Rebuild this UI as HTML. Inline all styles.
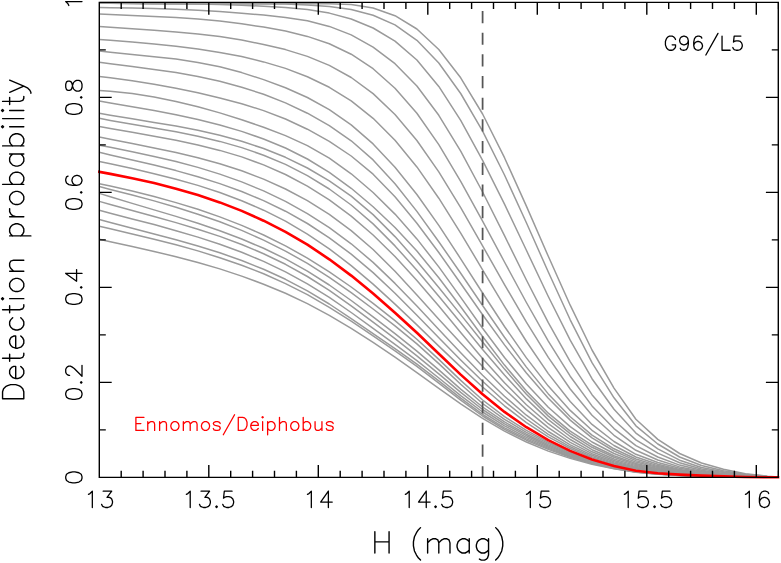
<!DOCTYPE html>
<html><head><meta charset="utf-8"><title>Detection probability</title>
<style>html,body{margin:0;padding:0;background:#fff;font-family:"Liberation Sans",sans-serif}svg{position:absolute;left:0;top:0}</style>
</head><body>
<svg width="781" height="563" viewBox="0 0 781 563" style="display:block">
<rect width="781" height="563" fill="#fff"/>
<clipPath id="c"><rect x="99.3" y="1.35" width="679.0" height="477.54999999999995"/></clipPath>
<clipPath id="cr"><rect x="98.0" y="1.35" width="681.6" height="477.54999999999995"/></clipPath>
<g clip-path="url(#c)" fill="none" stroke="#9a9a9a" stroke-width="1.5" stroke-linejoin="round">
<polyline points="99.3,2.6 110.3,2.6 132.2,2.6 154.1,2.6 176.0,2.6 197.9,2.8 219.8,3.0 241.7,3.3 263.6,3.5 285.5,3.6 307.4,3.7 329.3,3.8 351.2,4.6 373.1,8.0 395.0,15.7 416.9,29.0 438.8,49.5 460.7,77.8 482.6,114.0 504.5,157.7 526.4,206.1 548.3,256.3 570.2,305.2 592.0,350.0 614.0,388.1 635.9,419.3 657.8,439.4 679.6,453.5 701.5,463.0 723.5,469.3 745.4,473.7 767.3,476.2 778.2,476.9"/>
<polyline points="99.3,2.9 110.3,3.3 132.2,3.8 154.1,3.9 176.0,3.9 197.9,3.9 219.8,3.9 241.7,3.9 263.6,3.9 285.5,3.9 307.4,4.9 329.3,6.5 351.2,9.5 373.1,15.2 395.0,24.9 416.9,40.3 438.8,63.0 460.7,93.5 482.6,131.2 504.5,175.0 526.4,222.8 548.3,272.0 570.2,319.8 592.0,362.7 614.0,397.8 635.9,425.8 657.8,444.0 679.6,457.0 701.5,465.5 723.5,470.7 745.4,474.3 767.3,476.4 778.2,477.0"/>
<polyline points="99.3,3.3 110.3,3.3 132.2,3.3 154.1,3.4 176.0,3.7 197.9,4.1 219.8,4.6 241.7,5.3 263.6,6.2 285.5,7.4 307.4,9.5 329.3,13.1 351.2,19.0 373.1,28.0 395.0,41.1 416.9,60.0 438.8,86.4 460.7,120.4 482.6,160.3 504.5,204.2 526.4,250.3 548.3,296.5 570.2,340.2 592.0,378.7 614.0,409.2 635.9,433.1 657.8,448.8 679.6,460.2 701.5,467.5 723.5,471.8 745.4,474.8 767.3,476.6 778.2,477.1"/>
<polyline points="99.3,7.5 110.3,7.7 132.2,8.1 154.1,8.6 176.0,9.3 197.9,10.2 219.8,11.5 241.7,13.2 263.6,15.1 285.5,17.4 307.4,20.8 329.3,26.4 351.2,34.9 373.1,47.1 395.0,63.7 416.9,86.0 438.8,115.3 460.7,151.2 482.6,192.0 504.5,235.7 526.4,280.0 548.3,322.7 570.2,361.6 592.0,394.7 614.0,420.3 635.9,439.9 657.8,453.1 679.6,462.8 701.5,469.0 723.5,472.6 745.4,475.1 767.3,476.7 778.2,477.1"/>
<polyline points="99.3,13.9 110.3,14.5 132.2,15.5 154.1,16.4 176.0,17.5 197.9,19.0 219.8,21.0 241.7,23.8 263.6,27.1 285.5,31.1 307.4,36.4 329.3,43.8 351.2,54.2 373.1,68.7 395.0,88.2 416.9,113.3 438.8,144.6 460.7,181.3 482.6,221.1 504.5,262.0 526.4,302.5 548.3,341.1 570.2,376.2 592.0,405.9 614.0,428.6 635.9,445.7 657.8,457.0 679.6,465.1 701.5,470.3 723.5,473.4 745.4,475.5 767.3,476.7 778.2,477.1"/>
<polyline points="99.3,26.4 110.3,27.2 132.2,28.7 154.1,30.2 176.0,31.9 197.9,33.9 219.8,36.6 241.7,40.1 263.6,44.4 285.5,49.6 307.4,56.4 329.3,65.4 351.2,77.5 373.1,93.6 395.0,114.5 416.9,140.5 438.8,171.9 460.7,207.7 482.6,245.9 504.5,284.6 526.4,322.2 548.3,357.4 570.2,389.0 592.0,415.3 614.0,435.3 635.9,450.3 657.8,460.0 679.6,466.9 701.5,471.3 723.5,474.0 745.4,475.8 767.3,476.8 778.2,477.1"/>
<polyline points="99.3,39.5 110.3,40.3 132.2,42.0 154.1,43.9 176.0,46.2 197.9,49.0 219.8,52.4 241.7,56.6 263.6,61.9 285.5,68.4 307.4,76.7 329.3,87.3 351.2,100.9 373.1,118.3 395.0,140.3 416.9,166.9 438.8,198.2 460.7,233.1 482.6,269.8 504.5,306.4 526.4,341.5 548.3,373.6 570.2,401.5 592.0,424.4 614.0,441.5 635.9,454.3 657.8,462.5 679.6,468.3 701.5,472.1 723.5,474.4 745.4,476.0 767.3,476.9 778.2,477.1"/>
<polyline points="99.3,50.9 110.3,52.3 132.2,54.6 154.1,56.7 176.0,59.1 197.9,62.4 219.8,66.8 241.7,72.6 263.6,79.6 285.5,87.7 307.4,97.5 329.3,109.6 351.2,124.9 373.1,143.9 395.0,167.2 416.9,194.5 438.8,225.4 460.7,258.8 482.6,293.0 504.5,326.5 526.4,357.9 548.3,386.1 570.2,410.4 592.0,430.3 614.0,445.5 635.9,457.0 657.8,464.3 679.6,469.4 701.5,472.7 723.5,474.7 745.4,476.1 767.3,477.0 778.2,477.2"/>
<polyline points="99.3,62.3 110.3,63.7 132.2,66.5 154.1,69.4 176.0,72.6 197.9,76.5 219.8,81.3 241.7,87.2 263.6,94.3 285.5,102.9 307.4,113.2 329.3,125.6 351.2,140.8 373.1,159.9 395.0,183.8 416.9,211.4 438.8,241.7 460.7,273.3 482.6,305.5 504.5,337.2 526.4,367.1 548.3,393.9 570.2,416.7 592.0,435.1 614.0,448.8 635.9,459.0 657.8,465.6 679.6,470.2 701.5,473.2 723.5,475.0 745.4,476.3 767.3,477.0 778.2,477.2"/>
<polyline points="99.3,76.5 110.3,77.8 132.2,80.8 154.1,84.3 176.0,88.3 197.9,92.8 219.8,97.9 241.7,103.7 263.6,110.6 285.5,119.0 307.4,129.2 329.3,141.3 351.2,156.0 373.1,174.2 395.0,196.8 416.9,223.2 438.8,252.5 460.7,283.5 482.6,314.8 504.5,344.9 526.4,373.0 548.3,398.3 570.2,420.1 592.0,437.9 614.0,451.0 635.9,460.6 657.8,466.6 679.6,470.9 701.5,473.6 723.5,475.3 745.4,476.4 767.3,477.1 778.2,477.2"/>
<polyline points="99.3,90.5 110.3,91.3 132.2,93.6 154.1,97.0 176.0,101.4 197.9,106.7 219.8,112.9 241.7,119.7 263.6,127.3 285.5,135.6 307.4,145.6 329.3,158.2 351.2,173.8 373.1,192.5 395.0,214.1 416.9,238.9 438.8,266.9 460.7,297.4 482.6,328.2 504.5,357.5 526.4,384.1 548.3,407.3 570.2,426.6 592.0,442.0 614.0,453.5 635.9,462.1 657.8,467.6 679.6,471.5 701.5,474.0 723.5,475.5 745.4,476.5 767.3,477.1 778.2,477.2"/>
<polyline points="99.3,101.1 110.3,103.0 132.2,106.7 154.1,110.5 176.0,114.7 197.9,119.5 219.8,125.0 241.7,131.4 263.6,139.0 285.5,148.0 307.4,159.0 329.3,172.3 351.2,188.3 373.1,206.7 395.0,227.5 416.9,251.1 438.8,277.7 460.7,306.8 482.6,336.5 504.5,365.1 526.4,391.1 548.3,413.2 570.2,431.2 592.0,445.2 614.0,455.7 635.9,463.5 657.8,468.5 679.6,472.0 701.5,474.3 723.5,475.7 745.4,476.6 767.3,477.1 778.2,477.2"/>
<polyline points="99.3,113.3 110.3,115.2 132.2,118.8 154.1,122.4 176.0,126.1 197.9,130.3 219.8,135.3 241.7,141.3 263.6,148.5 285.5,157.3 307.4,168.0 329.3,180.8 351.2,196.1 373.1,214.6 395.0,236.6 416.9,261.3 438.8,287.6 460.7,314.6 482.6,342.0 504.5,369.1 526.4,394.3 548.3,416.1 570.2,433.6 592.0,447.3 614.0,457.3 635.9,464.6 657.8,469.2 679.6,472.5 701.5,474.6 723.5,475.9 745.4,476.7 767.3,477.1 778.2,477.2"/>
<polyline points="99.3,118.3 110.3,120.4 132.2,124.2 154.1,127.9 176.0,131.8 197.9,136.2 219.8,141.4 241.7,147.6 263.6,155.2 285.5,164.4 307.4,175.6 329.3,189.0 351.2,205.0 373.1,223.9 395.0,245.9 416.9,270.3 438.8,296.2 460.7,322.8 482.6,349.4 504.5,375.1 526.4,398.9 548.3,419.6 570.2,436.5 592.0,449.7 614.0,459.0 635.9,465.6 657.8,469.9 679.6,472.9 701.5,474.8 723.5,476.0 745.4,476.8 767.3,477.1 778.2,477.2"/>
<polyline points="99.3,126.5 110.3,128.5 132.2,132.3 154.1,136.2 176.0,140.2 197.9,144.9 219.8,150.4 241.7,156.9 263.6,164.9 285.5,174.5 307.4,186.1 329.3,199.9 351.2,216.1 373.1,235.0 395.0,256.5 416.9,280.4 438.8,306.0 460.7,332.4 482.6,358.4 504.5,382.7 526.4,404.7 548.3,423.7 570.2,439.5 592.0,451.8 614.0,460.5 635.9,466.6 657.8,470.5 679.6,473.3 701.5,475.0 723.5,476.1 745.4,476.8 767.3,477.1 778.2,477.2"/>
<polyline points="99.3,137.0 110.3,139.2 132.2,143.5 154.1,147.9 176.0,152.5 197.9,157.7 219.8,163.7 241.7,170.8 263.6,179.1 285.5,189.0 307.4,200.7 329.3,214.4 351.2,230.6 373.1,249.5 395.0,271.3 416.9,295.0 438.8,319.2 460.7,343.1 482.6,366.5 504.5,389.0 526.4,409.6 548.3,427.6 570.2,442.3 592.0,453.7 614.0,461.8 635.9,467.5 657.8,471.1 679.6,473.6 701.5,475.2 723.5,476.2 745.4,476.9 767.3,477.2 778.2,477.2"/>
<polyline points="99.3,145.2 110.3,147.3 132.2,151.7 154.1,156.4 176.0,161.5 197.9,167.4 219.8,174.1 241.7,181.9 263.6,190.9 285.5,201.4 307.4,213.6 329.3,227.7 351.2,243.8 373.1,262.4 395.0,283.4 416.9,306.1 438.8,329.5 460.7,352.8 482.6,375.2 504.5,396.2 526.4,415.2 548.3,431.5 570.2,444.9 592.0,455.3 614.0,462.9 635.9,468.3 657.8,471.6 679.6,473.9 701.5,475.4 723.5,476.3 745.4,476.9 767.3,477.2 778.2,477.2"/>
<polyline points="99.3,152.3 110.3,154.9 132.2,159.9 154.1,165.1 176.0,170.6 197.9,176.7 219.8,183.6 241.7,191.5 263.6,200.6 285.5,211.2 307.4,223.5 329.3,237.8 351.2,254.1 373.1,272.6 395.0,293.2 416.9,315.3 438.8,337.8 460.7,360.0 482.6,381.3 504.5,401.2 526.4,419.0 548.3,434.3 570.2,446.8 592.0,456.6 614.0,463.8 635.9,469.0 657.8,472.1 679.6,474.2 701.5,475.5 723.5,476.4 745.4,477.0 767.3,477.2 778.2,477.2"/>
<polyline points="99.3,161.4 110.3,163.8 132.2,168.6 154.1,173.7 176.0,179.2 197.9,185.4 219.8,192.5 241.7,200.7 263.6,210.2 285.5,221.2 307.4,234.1 329.3,248.8 351.2,265.6 373.1,284.1 395.0,304.1 416.9,324.9 438.8,346.1 460.7,366.9 482.6,387.0 504.5,405.8 526.4,422.6 548.3,436.9 570.2,448.5 592.0,457.7 614.0,464.6 635.9,469.7 657.8,472.6 679.6,474.4 701.5,475.6 723.5,476.4 745.4,477.0 767.3,477.2 778.2,477.2"/>
<polyline points="99.3,183.8 110.3,186.1 132.2,191.1 154.1,196.6 176.0,202.6 197.9,209.3 219.8,216.9 241.7,225.4 263.6,235.0 285.5,245.9 307.4,258.1 329.3,271.9 351.2,287.0 373.1,303.3 395.0,320.6 416.9,339.2 438.8,359.4 460.7,380.4 482.6,400.0 504.5,416.6 526.4,430.4 548.3,442.2 570.2,452.3 592.0,460.5 614.0,466.6 635.9,471.1 657.8,473.5 679.6,474.9 701.5,475.9 723.5,476.6 745.4,477.1 767.3,477.3 778.2,477.3"/>
<polyline points="99.3,186.6 110.3,189.4 132.2,195.0 154.1,200.9 176.0,207.3 197.9,214.2 219.8,221.8 241.7,230.4 263.6,240.1 285.5,251.1 307.4,263.4 329.3,277.4 351.2,292.7 373.1,309.0 395.0,325.9 416.9,343.9 438.8,363.6 460.7,384.3 482.6,403.5 504.5,419.3 526.4,432.3 548.3,443.4 570.2,453.1 592.0,461.0 614.0,466.9 635.9,471.3 657.8,473.6 679.6,475.0 701.5,475.9 723.5,476.6 745.4,477.1 767.3,477.3 778.2,477.3"/>
<polyline points="99.3,193.4 110.3,196.8 132.2,203.4 154.1,209.9 176.0,216.4 197.9,223.3 219.8,230.7 241.7,239.0 263.6,248.3 285.5,258.9 307.4,271.1 329.3,285.0 351.2,300.5 373.1,316.8 395.0,333.6 416.9,351.1 438.8,369.9 460.7,389.1 482.6,407.0 504.5,421.9 526.4,434.2 548.3,444.8 570.2,454.0 592.0,461.6 614.0,467.3 635.9,471.5 657.8,473.7 679.6,475.1 701.5,476.0 723.5,476.6 745.4,477.1 767.3,477.3 778.2,477.3"/>
<polyline points="99.3,201.4 110.3,204.5 132.2,210.5 154.1,216.5 176.0,222.6 197.9,229.2 219.8,236.4 241.7,244.5 263.6,253.7 285.5,264.3 307.4,276.5 329.3,290.4 351.2,305.9 373.1,322.2 395.0,338.7 416.9,355.8 438.8,373.9 460.7,392.4 482.6,409.5 504.5,423.8 526.4,435.7 548.3,446.0 570.2,454.8 592.0,462.1 614.0,467.6 635.9,471.6 657.8,473.8 679.6,475.2 701.5,476.1 723.5,476.7 745.4,477.1 767.3,477.3 778.2,477.3"/>
<polyline points="99.3,210.3 110.3,213.2 132.2,218.9 154.1,224.6 176.0,230.7 197.9,237.1 219.8,244.3 241.7,252.3 263.6,261.4 285.5,271.9 307.4,283.8 329.3,297.4 351.2,312.5 373.1,328.3 395.0,344.3 416.9,360.7 438.8,378.0 460.7,395.6 482.6,412.0 504.5,425.8 526.4,437.4 548.3,447.3 570.2,455.7 592.0,462.6 614.0,467.8 635.9,471.7 657.8,473.9 679.6,475.2 701.5,476.1 723.5,476.7 745.4,477.2 767.3,477.3 778.2,477.3"/>
<polyline points="99.3,219.5 110.3,222.4 132.2,228.2 154.1,233.9 176.0,239.7 197.9,246.0 219.8,252.8 241.7,260.5 263.6,269.3 285.5,279.3 307.4,290.8 329.3,304.0 351.2,318.6 373.1,333.7 395.0,348.7 416.9,364.2 438.8,380.9 460.7,398.2 482.6,414.3 504.5,427.8 526.4,438.9 548.3,448.4 570.2,456.5 592.0,463.1 614.0,468.1 635.9,471.9 657.8,474.0 679.6,475.3 701.5,476.1 723.5,476.8 745.4,477.2 767.3,477.3 778.2,477.3"/>
<polyline points="99.3,226.2 110.3,228.8 132.2,234.0 154.1,239.2 176.0,244.8 197.9,250.9 219.8,257.7 241.7,265.2 263.6,273.8 285.5,283.6 307.4,294.7 329.3,307.3 351.2,321.2 373.1,335.9 395.0,350.9 416.9,366.4 438.8,383.1 460.7,400.1 482.6,416.0 504.5,429.3 526.4,440.2 548.3,449.4 570.2,457.2 592.0,463.5 614.0,468.4 635.9,472.0 657.8,474.0 679.6,475.4 701.5,476.2 723.5,476.8 745.4,477.2 767.3,477.3 778.2,477.3"/>
<polyline points="99.3,239.3 110.3,241.7 132.2,246.4 154.1,251.4 176.0,256.7 197.9,262.5 219.8,268.9 241.7,276.1 263.6,284.2 285.5,293.3 307.4,303.6 329.3,315.3 351.2,328.3 373.1,342.3 395.0,357.1 416.9,372.6 438.8,388.3 460.7,403.8 482.6,418.3 504.5,431.1 526.4,442.0 548.3,451.1 570.2,458.4 592.0,464.2 614.0,468.8 635.9,472.2 657.8,474.2 679.6,475.5 701.5,476.2 723.5,476.8 745.4,477.2 767.3,477.3 778.2,477.3"/>
</g>
<line x1="482.6" y1="2.35" x2="482.6" y2="477.4" stroke="#555" stroke-width="1.75" stroke-dasharray="12.2 9.48" stroke-dashoffset="13.08"/>
<polyline clip-path="url(#cr)" points="99.3,171.8 110.3,173.9 132.2,178.3 154.1,183.1 176.0,188.7 197.9,195.1 219.8,202.4 241.7,210.9 263.6,220.7 285.5,231.9 307.4,244.7 329.3,259.3 351.2,275.6 373.1,293.5 395.0,312.7 416.9,332.8 438.8,353.7 460.7,374.6 482.6,394.3 504.5,411.9 526.4,427.2 548.3,440.2 570.2,450.9 592.0,459.5 614.0,466.0 635.9,470.7 657.8,473.2 679.6,474.6 701.5,475.6 723.5,476.4 745.4,477.0 767.3,477.3 778.2,477.3" fill="none" stroke="#f00" stroke-width="2.6" stroke-linejoin="round" stroke-linecap="square"/>
<path d="M99.3 2.35H778.3V477.4H99.3ZM121.20 477.4v-6.6M121.20 2.35v6.6M143.10 477.4v-6.6M143.10 2.35v6.6M165.00 477.4v-6.6M165.00 2.35v6.6M186.90 477.4v-6.6M186.90 2.35v6.6M208.80 477.4v-12.4M208.80 2.35v12.4M230.70 477.4v-6.6M230.70 2.35v6.6M252.60 477.4v-6.6M252.60 2.35v6.6M274.50 477.4v-6.6M274.50 2.35v6.6M296.40 477.4v-6.6M296.40 2.35v6.6M318.30 477.4v-12.4M318.30 2.35v12.4M340.20 477.4v-6.6M340.20 2.35v6.6M362.10 477.4v-6.6M362.10 2.35v6.6M384.00 477.4v-6.6M384.00 2.35v6.6M405.90 477.4v-6.6M405.90 2.35v6.6M427.80 477.4v-12.4M427.80 2.35v12.4M449.70 477.4v-6.6M449.70 2.35v6.6M471.60 477.4v-6.6M471.60 2.35v6.6M493.50 477.4v-6.6M493.50 2.35v6.6M515.40 477.4v-6.6M515.40 2.35v6.6M537.30 477.4v-12.4M537.30 2.35v12.4M559.20 477.4v-6.6M559.20 2.35v6.6M581.10 477.4v-6.6M581.10 2.35v6.6M603.00 477.4v-6.6M603.00 2.35v6.6M624.90 477.4v-6.6M624.90 2.35v6.6M646.80 477.4v-12.4M646.80 2.35v12.4M668.70 477.4v-6.6M668.70 2.35v6.6M690.60 477.4v-6.6M690.60 2.35v6.6M712.50 477.4v-6.6M712.50 2.35v6.6M734.40 477.4v-6.6M734.40 2.35v6.6M756.30 477.4v-12.4M756.30 2.35v12.4M778.20 477.4v-6.6M778.20 2.35v6.6M99.3 429.89h6.5M778.3 429.89h-6.5M99.3 382.39h12.4M778.3 382.39h-12.4M99.3 334.88h6.5M778.3 334.88h-6.5M99.3 287.38h12.4M778.3 287.38h-12.4M99.3 239.88h6.5M778.3 239.88h-6.5M99.3 192.37h12.4M778.3 192.37h-12.4M99.3 144.87h6.5M778.3 144.87h-6.5M99.3 97.36h12.4M778.3 97.36h-12.4M99.3 49.86h6.5M778.3 49.86h-6.5" fill="none" stroke="#000" stroke-width="1.4" stroke-linecap="butt"/>
<path transform="translate(99.30 507.50) translate(-15.50 0)" d="M4.65 -13.18 L6.20 -13.95 L8.53 -16.28 L8.53 0.00 M19.38 -16.28 L27.90 -16.28 L23.25 -10.08 L25.57 -10.08 L27.12 -9.30 L27.90 -8.53 L28.68 -6.20 L28.68 -4.65 L27.90 -2.33 L26.35 -0.78 L24.03 0.00 L21.70 0.00 L19.38 -0.78 L18.60 -1.55 L17.82 -3.10" fill="none" stroke="#000" stroke-width="1.3" stroke-linecap="round" stroke-linejoin="round"/>
<path transform="translate(208.80 507.50) translate(-27.12 0)" d="M4.65 -13.18 L6.20 -13.95 L8.53 -16.28 L8.53 0.00 M19.38 -16.28 L27.90 -16.28 L23.25 -10.08 L25.57 -10.08 L27.12 -9.30 L27.90 -8.53 L28.68 -6.20 L28.68 -4.65 L27.90 -2.33 L26.35 -0.78 L24.03 0.00 L21.70 0.00 L19.38 -0.78 L18.60 -1.55 L17.82 -3.10 M34.88 -1.55 L34.10 -0.78 L34.88 0.00 L35.65 -0.78 L34.88 -1.55 M50.38 -16.28 L42.62 -16.28 L41.85 -9.30 L42.62 -10.08 L44.95 -10.85 L47.27 -10.85 L49.60 -10.08 L51.15 -8.53 L51.93 -6.20 L51.93 -4.65 L51.15 -2.33 L49.60 -0.78 L47.27 0.00 L44.95 0.00 L42.62 -0.78 L41.85 -1.55 L41.08 -3.10" fill="none" stroke="#000" stroke-width="1.3" stroke-linecap="round" stroke-linejoin="round"/>
<path transform="translate(318.30 507.50) translate(-15.50 0)" d="M4.65 -13.18 L6.20 -13.95 L8.53 -16.28 L8.53 0.00 M25.57 -16.28 L17.82 -5.42 L29.45 -5.42 M25.57 -16.28 L25.57 0.00" fill="none" stroke="#000" stroke-width="1.3" stroke-linecap="round" stroke-linejoin="round"/>
<path transform="translate(427.80 507.50) translate(-27.12 0)" d="M4.65 -13.18 L6.20 -13.95 L8.53 -16.28 L8.53 0.00 M25.57 -16.28 L17.82 -5.42 L29.45 -5.42 M25.57 -16.28 L25.57 0.00 M34.88 -1.55 L34.10 -0.78 L34.88 0.00 L35.65 -0.78 L34.88 -1.55 M50.38 -16.28 L42.62 -16.28 L41.85 -9.30 L42.62 -10.08 L44.95 -10.85 L47.27 -10.85 L49.60 -10.08 L51.15 -8.53 L51.93 -6.20 L51.93 -4.65 L51.15 -2.33 L49.60 -0.78 L47.27 0.00 L44.95 0.00 L42.62 -0.78 L41.85 -1.55 L41.08 -3.10" fill="none" stroke="#000" stroke-width="1.3" stroke-linecap="round" stroke-linejoin="round"/>
<path transform="translate(537.30 507.50) translate(-15.50 0)" d="M4.65 -13.18 L6.20 -13.95 L8.53 -16.28 L8.53 0.00 M27.12 -16.28 L19.38 -16.28 L18.60 -9.30 L19.38 -10.08 L21.70 -10.85 L24.03 -10.85 L26.35 -10.08 L27.90 -8.53 L28.68 -6.20 L28.68 -4.65 L27.90 -2.33 L26.35 -0.78 L24.03 0.00 L21.70 0.00 L19.38 -0.78 L18.60 -1.55 L17.82 -3.10" fill="none" stroke="#000" stroke-width="1.3" stroke-linecap="round" stroke-linejoin="round"/>
<path transform="translate(646.80 507.50) translate(-27.12 0)" d="M4.65 -13.18 L6.20 -13.95 L8.53 -16.28 L8.53 0.00 M27.12 -16.28 L19.38 -16.28 L18.60 -9.30 L19.38 -10.08 L21.70 -10.85 L24.03 -10.85 L26.35 -10.08 L27.90 -8.53 L28.68 -6.20 L28.68 -4.65 L27.90 -2.33 L26.35 -0.78 L24.03 0.00 L21.70 0.00 L19.38 -0.78 L18.60 -1.55 L17.82 -3.10 M34.88 -1.55 L34.10 -0.78 L34.88 0.00 L35.65 -0.78 L34.88 -1.55 M50.38 -16.28 L42.62 -16.28 L41.85 -9.30 L42.62 -10.08 L44.95 -10.85 L47.27 -10.85 L49.60 -10.08 L51.15 -8.53 L51.93 -6.20 L51.93 -4.65 L51.15 -2.33 L49.60 -0.78 L47.27 0.00 L44.95 0.00 L42.62 -0.78 L41.85 -1.55 L41.08 -3.10" fill="none" stroke="#000" stroke-width="1.3" stroke-linecap="round" stroke-linejoin="round"/>
<path transform="translate(756.30 507.50) translate(-15.50 0)" d="M4.65 -13.18 L6.20 -13.95 L8.53 -16.28 L8.53 0.00 M27.90 -13.95 L27.12 -15.50 L24.80 -16.28 L23.25 -16.28 L20.93 -15.50 L19.38 -13.18 L18.60 -9.30 L18.60 -5.42 L19.38 -2.33 L20.93 -0.78 L23.25 0.00 L24.03 0.00 L26.35 -0.78 L27.90 -2.33 L28.68 -4.65 L28.68 -5.42 L27.90 -7.75 L26.35 -9.30 L24.03 -10.08 L23.25 -10.08 L20.93 -9.30 L19.38 -7.75 L18.60 -5.42" fill="none" stroke="#000" stroke-width="1.3" stroke-linecap="round" stroke-linejoin="round"/>
<path transform="translate(82.00 477.40) rotate(-90) translate(-7.75 0)" d="M6.98 -16.28 L4.65 -15.50 L3.10 -13.18 L2.33 -9.30 L2.33 -6.98 L3.10 -3.10 L4.65 -0.78 L6.98 0.00 L8.53 0.00 L10.85 -0.78 L12.40 -3.10 L13.18 -6.98 L13.18 -9.30 L12.40 -13.18 L10.85 -15.50 L8.53 -16.28 L6.98 -16.28" fill="none" stroke="#000" stroke-width="1.3" stroke-linecap="round" stroke-linejoin="round"/>
<path transform="translate(82.00 382.39) rotate(-90) translate(-19.38 0)" d="M6.98 -16.28 L4.65 -15.50 L3.10 -13.18 L2.33 -9.30 L2.33 -6.98 L3.10 -3.10 L4.65 -0.78 L6.98 0.00 L8.53 0.00 L10.85 -0.78 L12.40 -3.10 L13.18 -6.98 L13.18 -9.30 L12.40 -13.18 L10.85 -15.50 L8.53 -16.28 L6.98 -16.28 M19.38 -1.55 L18.60 -0.78 L19.38 0.00 L20.15 -0.78 L19.38 -1.55 M26.35 -12.40 L26.35 -13.18 L27.12 -14.72 L27.90 -15.50 L29.45 -16.28 L32.55 -16.28 L34.10 -15.50 L34.88 -14.72 L35.65 -13.18 L35.65 -11.62 L34.88 -10.08 L33.33 -7.75 L25.57 0.00 L36.43 0.00" fill="none" stroke="#000" stroke-width="1.3" stroke-linecap="round" stroke-linejoin="round"/>
<path transform="translate(82.00 287.38) rotate(-90) translate(-19.38 0)" d="M6.98 -16.28 L4.65 -15.50 L3.10 -13.18 L2.33 -9.30 L2.33 -6.98 L3.10 -3.10 L4.65 -0.78 L6.98 0.00 L8.53 0.00 L10.85 -0.78 L12.40 -3.10 L13.18 -6.98 L13.18 -9.30 L12.40 -13.18 L10.85 -15.50 L8.53 -16.28 L6.98 -16.28 M19.38 -1.55 L18.60 -0.78 L19.38 0.00 L20.15 -0.78 L19.38 -1.55 M33.33 -16.28 L25.57 -5.42 L37.20 -5.42 M33.33 -16.28 L33.33 0.00" fill="none" stroke="#000" stroke-width="1.3" stroke-linecap="round" stroke-linejoin="round"/>
<path transform="translate(82.00 192.37) rotate(-90) translate(-19.38 0)" d="M6.98 -16.28 L4.65 -15.50 L3.10 -13.18 L2.33 -9.30 L2.33 -6.98 L3.10 -3.10 L4.65 -0.78 L6.98 0.00 L8.53 0.00 L10.85 -0.78 L12.40 -3.10 L13.18 -6.98 L13.18 -9.30 L12.40 -13.18 L10.85 -15.50 L8.53 -16.28 L6.98 -16.28 M19.38 -1.55 L18.60 -0.78 L19.38 0.00 L20.15 -0.78 L19.38 -1.55 M35.65 -13.95 L34.88 -15.50 L32.55 -16.28 L31.00 -16.28 L28.68 -15.50 L27.12 -13.18 L26.35 -9.30 L26.35 -5.42 L27.12 -2.33 L28.68 -0.78 L31.00 0.00 L31.78 0.00 L34.10 -0.78 L35.65 -2.33 L36.43 -4.65 L36.43 -5.42 L35.65 -7.75 L34.10 -9.30 L31.78 -10.08 L31.00 -10.08 L28.68 -9.30 L27.12 -7.75 L26.35 -5.42" fill="none" stroke="#000" stroke-width="1.3" stroke-linecap="round" stroke-linejoin="round"/>
<path transform="translate(82.00 97.36) rotate(-90) translate(-19.38 0)" d="M6.98 -16.28 L4.65 -15.50 L3.10 -13.18 L2.33 -9.30 L2.33 -6.98 L3.10 -3.10 L4.65 -0.78 L6.98 0.00 L8.53 0.00 L10.85 -0.78 L12.40 -3.10 L13.18 -6.98 L13.18 -9.30 L12.40 -13.18 L10.85 -15.50 L8.53 -16.28 L6.98 -16.28 M19.38 -1.55 L18.60 -0.78 L19.38 0.00 L20.15 -0.78 L19.38 -1.55 M29.45 -16.28 L27.12 -15.50 L26.35 -13.95 L26.35 -12.40 L27.12 -10.85 L28.68 -10.08 L31.78 -9.30 L34.10 -8.53 L35.65 -6.98 L36.43 -5.42 L36.43 -3.10 L35.65 -1.55 L34.88 -0.78 L32.55 0.00 L29.45 0.00 L27.12 -0.78 L26.35 -1.55 L25.57 -3.10 L25.57 -5.42 L26.35 -6.98 L27.90 -8.53 L30.23 -9.30 L33.33 -10.08 L34.88 -10.85 L35.65 -12.40 L35.65 -13.95 L34.88 -15.50 L32.55 -16.28 L29.45 -16.28" fill="none" stroke="#000" stroke-width="1.3" stroke-linecap="round" stroke-linejoin="round"/>
<path transform="translate(82.00 2.35) rotate(-90) translate(-7.75 0)" d="M4.65 -13.18 L6.20 -13.95 L8.53 -16.28 L8.53 0.00" fill="none" stroke="#000" stroke-width="1.3" stroke-linecap="round" stroke-linejoin="round"/>
<path transform="translate(438.80 553.00) translate(-68.00 0)" d="M4.06 -21.31 L4.06 0.00 M18.27 -21.31 L18.27 0.00 M4.06 -11.16 L18.27 -11.16 M49.73 -25.37 L47.70 -23.34 L45.67 -20.30 L43.64 -16.24 L42.63 -11.16 L42.63 -7.10 L43.64 -2.03 L45.67 2.03 L47.70 5.07 L49.73 7.10 M56.84 -14.21 L56.84 0.00 M56.84 -10.15 L59.88 -13.19 L61.91 -14.21 L64.96 -14.21 L66.99 -13.19 L68.00 -10.15 L68.00 0.00 M68.00 -10.15 L71.05 -13.19 L73.08 -14.21 L76.12 -14.21 L78.15 -13.19 L79.17 -10.15 L79.17 0.00 M98.45 -14.21 L98.45 0.00 M98.45 -11.16 L96.42 -13.19 L94.39 -14.21 L91.35 -14.21 L89.32 -13.19 L87.29 -11.16 L86.27 -8.12 L86.27 -6.09 L87.29 -3.04 L89.32 -1.01 L91.35 0.00 L94.39 0.00 L96.42 -1.01 L98.45 -3.04 M117.74 -14.21 L117.74 2.03 L116.72 5.07 L115.71 6.09 L113.68 7.10 L110.63 7.10 L108.60 6.09 M117.74 -11.16 L115.71 -13.19 L113.68 -14.21 L110.63 -14.21 L108.60 -13.19 L106.57 -11.16 L105.56 -8.12 L105.56 -6.09 L106.57 -3.04 L108.60 -1.01 L110.63 0.00 L113.68 0.00 L115.71 -1.01 L117.74 -3.04 M124.84 -25.37 L126.87 -23.34 L128.91 -20.30 L130.93 -16.24 L131.95 -11.16 L131.95 -7.10 L130.93 -2.03 L128.91 2.03 L126.87 5.07 L124.84 7.10" fill="none" stroke="#000" stroke-width="1.4" stroke-linecap="round" stroke-linejoin="round"/>
<path transform="translate(23.80 240.47) rotate(-90) translate(-162.35 0)" d="M4.05 -21.24 L4.05 0.00 M4.05 -21.24 L11.13 -21.24 L14.16 -20.23 L16.18 -18.21 L17.20 -16.18 L18.21 -13.15 L18.21 -8.09 L17.20 -5.06 L16.18 -3.03 L14.16 -1.01 L11.13 0.00 L4.05 0.00 M24.28 -8.09 L36.41 -8.09 L36.41 -10.12 L35.40 -12.14 L34.39 -13.15 L32.37 -14.16 L29.33 -14.16 L27.31 -13.15 L25.29 -11.13 L24.28 -8.09 L24.28 -6.07 L25.29 -3.03 L27.31 -1.01 L29.33 0.00 L32.37 0.00 L34.39 -1.01 L36.41 -3.03 M44.51 -21.24 L44.51 -4.05 L45.52 -1.01 L47.54 0.00 L49.56 0.00 M41.47 -14.16 L48.55 -14.16 M54.62 -8.09 L66.76 -8.09 L66.76 -10.12 L65.75 -12.14 L64.74 -13.15 L62.71 -14.16 L59.68 -14.16 L57.66 -13.15 L55.63 -11.13 L54.62 -8.09 L54.62 -6.07 L55.63 -3.03 L57.66 -1.01 L59.68 0.00 L62.71 0.00 L64.74 -1.01 L66.76 -3.03 M84.97 -11.13 L82.94 -13.15 L80.92 -14.16 L77.89 -14.16 L75.86 -13.15 L73.84 -11.13 L72.83 -8.09 L72.83 -6.07 L73.84 -3.03 L75.86 -1.01 L77.89 0.00 L80.92 0.00 L82.94 -1.01 L84.97 -3.03 M93.06 -21.24 L93.06 -4.05 L94.07 -1.01 L96.09 0.00 L98.12 0.00 M90.02 -14.16 L97.10 -14.16 M103.17 -21.24 L104.18 -20.23 L105.20 -21.24 L104.18 -22.25 L103.17 -21.24 M104.18 -14.16 L104.18 0.00 M116.32 -14.16 L114.30 -13.15 L112.28 -11.13 L111.27 -8.09 L111.27 -6.07 L112.28 -3.03 L114.30 -1.01 L116.32 0.00 L119.36 0.00 L121.38 -1.01 L123.40 -3.03 L124.41 -6.07 L124.41 -8.09 L123.40 -11.13 L121.38 -13.15 L119.36 -14.16 L116.32 -14.16 M131.50 -14.16 L131.50 0.00 M131.50 -10.12 L134.53 -13.15 L136.55 -14.16 L139.59 -14.16 L141.61 -13.15 L142.62 -10.12 L142.62 0.00 M166.90 -14.16 L166.90 7.08 M166.90 -11.13 L168.92 -13.15 L170.94 -14.16 L173.98 -14.16 L176.00 -13.15 L178.02 -11.13 L179.04 -8.09 L179.04 -6.07 L178.02 -3.03 L176.00 -1.01 L173.98 0.00 L170.94 0.00 L168.92 -1.01 L166.90 -3.03 M186.12 -14.16 L186.12 0.00 M186.12 -8.09 L187.13 -11.13 L189.15 -13.15 L191.17 -14.16 L194.21 -14.16 M203.31 -14.16 L201.29 -13.15 L199.27 -11.13 L198.25 -8.09 L198.25 -6.07 L199.27 -3.03 L201.29 -1.01 L203.31 0.00 L206.35 0.00 L208.37 -1.01 L210.39 -3.03 L211.40 -6.07 L211.40 -8.09 L210.39 -11.13 L208.37 -13.15 L206.35 -14.16 L203.31 -14.16 M218.48 -21.24 L218.48 0.00 M218.48 -11.13 L220.51 -13.15 L222.53 -14.16 L225.56 -14.16 L227.59 -13.15 L229.61 -11.13 L230.62 -8.09 L230.62 -6.07 L229.61 -3.03 L227.59 -1.01 L225.56 0.00 L222.53 0.00 L220.51 -1.01 L218.48 -3.03 M248.83 -14.16 L248.83 0.00 M248.83 -11.13 L246.81 -13.15 L244.78 -14.16 L241.75 -14.16 L239.73 -13.15 L237.70 -11.13 L236.69 -8.09 L236.69 -6.07 L237.70 -3.03 L239.73 -1.01 L241.75 0.00 L244.78 0.00 L246.81 -1.01 L248.83 -3.03 M256.92 -21.24 L256.92 0.00 M256.92 -11.13 L258.94 -13.15 L260.97 -14.16 L264.00 -14.16 L266.02 -13.15 L268.05 -11.13 L269.06 -8.09 L269.06 -6.07 L268.05 -3.03 L266.02 -1.01 L264.00 0.00 L260.97 0.00 L258.94 -1.01 L256.92 -3.03 M275.13 -21.24 L276.14 -20.23 L277.15 -21.24 L276.14 -22.25 L275.13 -21.24 M276.14 -14.16 L276.14 0.00 M284.23 -21.24 L284.23 0.00 M291.31 -21.24 L292.32 -20.23 L293.34 -21.24 L292.32 -22.25 L291.31 -21.24 M292.32 -14.16 L292.32 0.00 M301.43 -21.24 L301.43 -4.05 L302.44 -1.01 L304.46 0.00 L306.48 0.00 M298.39 -14.16 L305.47 -14.16 M310.53 -14.16 L316.60 0.00 M322.67 -14.16 L316.60 0.00 L314.58 4.05 L312.55 6.07 L310.53 7.08 L309.52 7.08" fill="none" stroke="#000" stroke-width="1.4" stroke-linecap="round" stroke-linejoin="round"/>
<path transform="translate(663.40 50.25) translate(0.00 0)" d="M12.13 -10.78 L11.46 -12.13 L10.11 -13.48 L8.76 -14.15 L6.07 -14.15 L4.72 -13.48 L3.37 -12.13 L2.70 -10.78 L2.02 -8.76 L2.02 -5.39 L2.70 -3.37 L3.37 -2.02 L4.72 -0.67 L6.07 0.00 L8.76 0.00 L10.11 -0.67 L11.46 -2.02 L12.13 -3.37 L12.13 -5.39 M8.76 -5.39 L12.13 -5.39 M24.94 -9.44 L24.26 -7.41 L22.92 -6.07 L20.89 -5.39 L20.22 -5.39 L18.20 -6.07 L16.85 -7.41 L16.18 -9.44 L16.18 -10.11 L16.85 -12.13 L18.20 -13.48 L20.22 -14.15 L20.89 -14.15 L22.92 -13.48 L24.26 -12.13 L24.94 -9.44 L24.94 -6.07 L24.26 -2.70 L22.92 -0.67 L20.89 0.00 L19.55 0.00 L17.52 -0.67 L16.85 -2.02 M38.42 -12.13 L37.74 -13.48 L35.72 -14.15 L34.37 -14.15 L32.35 -13.48 L31.00 -11.46 L30.33 -8.09 L30.33 -4.72 L31.00 -2.02 L32.35 -0.67 L34.37 0.00 L35.05 0.00 L37.07 -0.67 L38.42 -2.02 L39.09 -4.04 L39.09 -4.72 L38.42 -6.74 L37.07 -8.09 L35.05 -8.76 L34.37 -8.76 L32.35 -8.09 L31.00 -6.74 L30.33 -4.72 M54.59 -16.85 L42.46 4.72 M58.64 -14.15 L58.64 0.00 M58.64 0.00 L66.73 0.00 M77.51 -14.15 L70.77 -14.15 L70.10 -8.09 L70.77 -8.76 L72.79 -9.44 L74.81 -9.44 L76.84 -8.76 L78.18 -7.41 L78.86 -5.39 L78.86 -4.04 L78.18 -2.02 L76.84 -0.67 L74.81 0.00 L72.79 0.00 L70.77 -0.67 L70.10 -1.35 L69.42 -2.70" fill="none" stroke="#000" stroke-width="1.3" stroke-linecap="round" stroke-linejoin="round"/>
<path transform="translate(133.40 430.40) translate(0.00 0)" d="M2.50 -13.11 L2.50 0.00 M2.50 -13.11 L10.61 -13.11 M2.50 -6.87 L7.49 -6.87 M2.50 0.00 L10.61 0.00 M14.36 -8.74 L14.36 0.00 M14.36 -6.24 L16.23 -8.12 L17.48 -8.74 L19.35 -8.74 L20.60 -8.12 L21.23 -6.24 L21.23 0.00 M26.22 -8.74 L26.22 0.00 M26.22 -6.24 L28.09 -8.12 L29.34 -8.74 L31.21 -8.74 L32.46 -8.12 L33.09 -6.24 L33.09 0.00 M40.58 -8.74 L39.33 -8.12 L38.08 -6.87 L37.46 -4.99 L37.46 -3.75 L38.08 -1.87 L39.33 -0.62 L40.58 0.00 L42.45 0.00 L43.70 -0.62 L44.95 -1.87 L45.57 -3.75 L45.57 -4.99 L44.95 -6.87 L43.70 -8.12 L42.45 -8.74 L40.58 -8.74 M49.94 -8.74 L49.94 0.00 M49.94 -6.24 L51.82 -8.12 L53.07 -8.74 L54.94 -8.74 L56.19 -8.12 L56.81 -6.24 L56.81 0.00 M56.81 -6.24 L58.68 -8.12 L59.93 -8.74 L61.81 -8.74 L63.05 -8.12 L63.68 -6.24 L63.68 0.00 M71.17 -8.74 L69.92 -8.12 L68.67 -6.87 L68.05 -4.99 L68.05 -3.75 L68.67 -1.87 L69.92 -0.62 L71.17 0.00 L73.04 0.00 L74.29 -0.62 L75.54 -1.87 L76.16 -3.75 L76.16 -4.99 L75.54 -6.87 L74.29 -8.12 L73.04 -8.74 L71.17 -8.74 M86.78 -6.87 L86.15 -8.12 L84.28 -8.74 L82.41 -8.74 L80.53 -8.12 L79.91 -6.87 L80.53 -5.62 L81.78 -4.99 L84.90 -4.37 L86.15 -3.75 L86.78 -2.50 L86.78 -1.87 L86.15 -0.62 L84.28 0.00 L82.41 0.00 L80.53 -0.62 L79.91 -1.87 M101.14 -15.61 L89.90 4.37 M104.88 -13.11 L104.88 0.00 M104.88 -13.11 L109.25 -13.11 L111.13 -12.49 L112.37 -11.24 L113.00 -9.99 L113.62 -8.12 L113.62 -4.99 L113.00 -3.12 L112.37 -1.87 L111.13 -0.62 L109.25 0.00 L104.88 0.00 M117.37 -4.99 L124.86 -4.99 L124.86 -6.24 L124.24 -7.49 L123.61 -8.12 L122.36 -8.74 L120.49 -8.74 L119.24 -8.12 L117.99 -6.87 L117.37 -4.99 L117.37 -3.75 L117.99 -1.87 L119.24 -0.62 L120.49 0.00 L122.36 0.00 L123.61 -0.62 L124.86 -1.87 M128.61 -13.11 L129.23 -12.49 L129.85 -13.11 L129.23 -13.73 L128.61 -13.11 M129.23 -8.74 L129.23 0.00 M134.22 -8.74 L134.22 4.37 M134.22 -6.87 L135.47 -8.12 L136.72 -8.74 L138.59 -8.74 L139.84 -8.12 L141.09 -6.87 L141.72 -4.99 L141.72 -3.75 L141.09 -1.87 L139.84 -0.62 L138.59 0.00 L136.72 0.00 L135.47 -0.62 L134.22 -1.87 M146.09 -13.11 L146.09 0.00 M146.09 -6.24 L147.96 -8.12 L149.21 -8.74 L151.08 -8.74 L152.33 -8.12 L152.95 -6.24 L152.95 0.00 M160.45 -8.74 L159.20 -8.12 L157.95 -6.87 L157.32 -4.99 L157.32 -3.75 L157.95 -1.87 L159.20 -0.62 L160.45 0.00 L162.32 0.00 L163.57 -0.62 L164.82 -1.87 L165.44 -3.75 L165.44 -4.99 L164.82 -6.87 L163.57 -8.12 L162.32 -8.74 L160.45 -8.74 M169.81 -13.11 L169.81 0.00 M169.81 -6.87 L171.06 -8.12 L172.31 -8.74 L174.18 -8.74 L175.43 -8.12 L176.68 -6.87 L177.30 -4.99 L177.30 -3.75 L176.68 -1.87 L175.43 -0.62 L174.18 0.00 L172.31 0.00 L171.06 -0.62 L169.81 -1.87 M181.67 -8.74 L181.67 -2.50 L182.30 -0.62 L183.54 0.00 L185.42 0.00 L186.67 -0.62 L188.54 -2.50 M188.54 -8.74 L188.54 0.00 M199.78 -6.87 L199.15 -8.12 L197.28 -8.74 L195.41 -8.74 L193.53 -8.12 L192.91 -6.87 L193.53 -5.62 L194.78 -4.99 L197.90 -4.37 L199.15 -3.75 L199.78 -2.50 L199.78 -1.87 L199.15 -0.62 L197.28 0.00 L195.41 0.00 L193.53 -0.62 L192.91 -1.87" fill="none" stroke="#f00" stroke-width="1.3" stroke-linecap="round" stroke-linejoin="round"/>
</svg>
</body></html>
